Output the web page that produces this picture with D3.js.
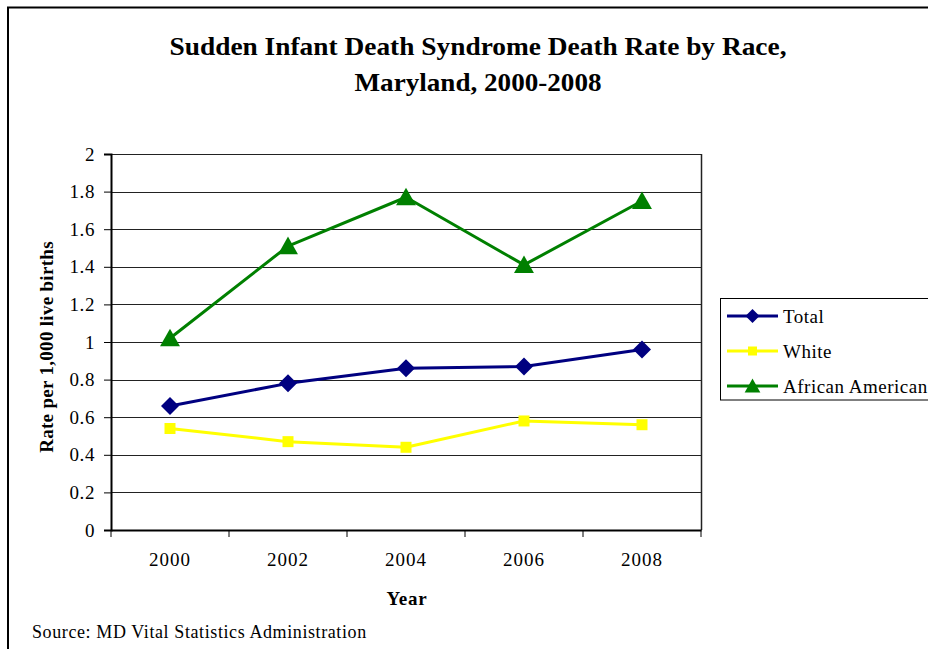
<!DOCTYPE html>
<html><head><meta charset="utf-8">
<script src="https://cdn.jsdelivr.net/npm/d3@7"></script>
<style>
html,body{margin:0;padding:0;background:#fff;}
svg{display:block;}
text{font-family:"Liberation Serif","Times New Roman",serif;fill:#000;}
</style></head>
<body>
<svg id="c" width="928" height="649"></svg>
<script>
const years = ["2000","2002","2004","2006","2008"];
const totalRate = [0.66, 0.78, 0.86, 0.87, 0.96];
const whiteRate = [0.54, 0.47, 0.44, 0.58, 0.56];
const africanAmericanRate = [1.02, 1.51, 1.77, 1.41, 1.75];
const yTicks = [0, 0.2, 0.4, 0.6, 0.8, 1, 1.2, 1.4, 1.6, 1.8, 2];
const seriesNames = ["Total", "White", "African American"];
const titleLines = ["Sudden Infant Death Syndrome Death Rate by Race,", "Maryland, 2000-2008"];

const series = [
  {name: seriesNames[0], values: totalRate, color: "#000080", marker: "diamond"},
  {name: seriesNames[1], values: whiteRate, color: "#ffff00", marker: "square"},
  {name: seriesNames[2], values: africanAmericanRate, color: "#008000", marker: "triangle"}
];

const svg = d3.select("#c");
const L = 111, R = 701, T = 154, B = 530;
const x = d3.scaleBand().domain(years).range([L, R]).padding(0);
const y = d3.scaleLinear().domain([0, 2]).range([B, T]);

function markerPath(type, s) {
  const p = d3.path();
  if (type === "diamond") {
    p.moveTo(0, -s); p.lineTo(s, 0); p.lineTo(0, s); p.lineTo(-s, 0); p.closePath();
  } else if (type === "square") {
    p.rect(-s, -s, 2 * s, 2 * s);
  } else {
    p.moveTo(0, -s); p.lineTo(s * 1.05, s * 0.85); p.lineTo(-s * 1.05, s * 0.85); p.closePath();
  }
  return p.toString();
}
const markerSize = {diamond: 9, square: 5.5, triangle: 9.5};
const legendMarkerSize = {diamond: 7, square: 4.5, triangle: 7.5};

// outer frame
svg.append("path").attr("d", "M8,649 L8,7.5 L928,7.5").attr("fill", "none").attr("stroke", "#000").attr("stroke-width", 2);

// title
svg.append("text").attr("x", 478).attr("y", 55).attr("text-anchor", "middle")
  .attr("font-size", 25).attr("font-weight", "bold")
  .attr("textLength", 617).attr("lengthAdjust", "spacingAndGlyphs").text(titleLines[0]);
svg.append("text").attr("x", 478).attr("y", 91).attr("text-anchor", "middle")
  .attr("font-size", 25).attr("font-weight", "bold")
  .attr("textLength", 247).attr("lengthAdjust", "spacingAndGlyphs").text(titleLines[1]);

// gridlines
svg.append("g").selectAll("line").data(yTicks.filter(d => d > 0)).join("line")
  .attr("x1", L).attr("x2", R).attr("y1", d => Math.round(y(d)) + 0.5).attr("y2", d => Math.round(y(d)) + 0.5)
  .attr("stroke", "#222").attr("stroke-width", 1);
// right border
svg.append("line").attr("x1", R + 0.5).attr("x2", R + 0.5).attr("y1", T).attr("y2", B)
  .attr("stroke", "#222").attr("stroke-width", 1.5);

// y axis
const yAxis = d3.axisLeft(y).tickValues(yTicks).tickSize(7).tickPadding(9).tickFormat(d3.format("~g"));
const gy = svg.append("g").attr("transform", `translate(${L},0)`).call(yAxis);
gy.select(".domain").attr("stroke", "#000").attr("stroke-width", 2);
gy.selectAll(".tick line").attr("stroke", "#000");
gy.selectAll(".tick text").attr("font-size", 19).attr("letter-spacing", 0.6).attr("fill", "#000");

// x axis
const xAxis = d3.axisBottom(x).tickSize(0).tickPadding(23);
const gx = svg.append("g").attr("transform", `translate(0,${B})`).call(xAxis);
gx.select(".domain").attr("stroke", "#000").attr("stroke-width", 2);
gx.selectAll(".tick text").attr("font-size", 19).attr("fill", "#000").attr("letter-spacing", 1);
// category boundary ticks
const bounds = years.map(d => x(d)).concat([x(years[years.length - 1]) + x.bandwidth()]);
svg.append("g").selectAll("line").data(bounds).join("line")
  .attr("x1", d => d).attr("x2", d => d).attr("y1", B).attr("y2", B + 7)
  .attr("stroke", "#000").attr("stroke-width", 1);

// axis titles
svg.append("text").attr("x", 407).attr("y", 605).attr("text-anchor", "middle")
  .attr("font-size", 19).attr("font-weight", "bold").attr("letter-spacing", 0.8).text("Year");
svg.append("text").attr("transform", "translate(53,347) rotate(-90)").attr("text-anchor", "middle")
  .attr("font-size", 19).attr("font-weight", "bold").attr("letter-spacing", 0.3).text("Rate per 1,000 live births");

// source
svg.append("text").attr("x", 32).attr("y", 638).attr("font-size", 18).attr("letter-spacing", 0.6)
  .text("Source: MD Vital Statistics Administration");

// series lines and markers
const cx = i => x(years[i]) + x.bandwidth() / 2;
const line = d3.line().x((d, i) => cx(i)).y(d => y(d));
series.forEach(s => {
  svg.append("path").datum(s.values).attr("d", line).attr("fill", "none")
    .attr("stroke", s.color).attr("stroke-width", 3).attr("stroke-linejoin", "round");
  svg.append("g").selectAll("path").data(s.values).join("path")
    .attr("transform", (d, i) => `translate(${cx(i)},${y(d)})`)
    .attr("d", markerPath(s.marker, markerSize[s.marker])).attr("fill", s.color);
});

// legend
const lg = svg.append("g");
lg.append("rect").attr("x", 720.5).attr("y", 298.5).attr("width", 230).attr("height", 101.5)
  .attr("fill", "#fff").attr("stroke", "#000").attr("stroke-width", 1);
series.forEach((s, i) => {
  const yy = 316 + i * 35;
  lg.append("line").attr("x1", 727).attr("x2", 778).attr("y1", yy).attr("y2", yy)
    .attr("stroke", s.color).attr("stroke-width", 3);
  lg.append("path").attr("transform", `translate(752.5,${yy})`)
    .attr("d", markerPath(s.marker, legendMarkerSize[s.marker])).attr("fill", s.color);
  lg.append("text").attr("x", 783).attr("y", yy + 6.5).attr("font-size", 19).attr("letter-spacing", 0.5).text(s.name);
});
</script>
</body></html>
